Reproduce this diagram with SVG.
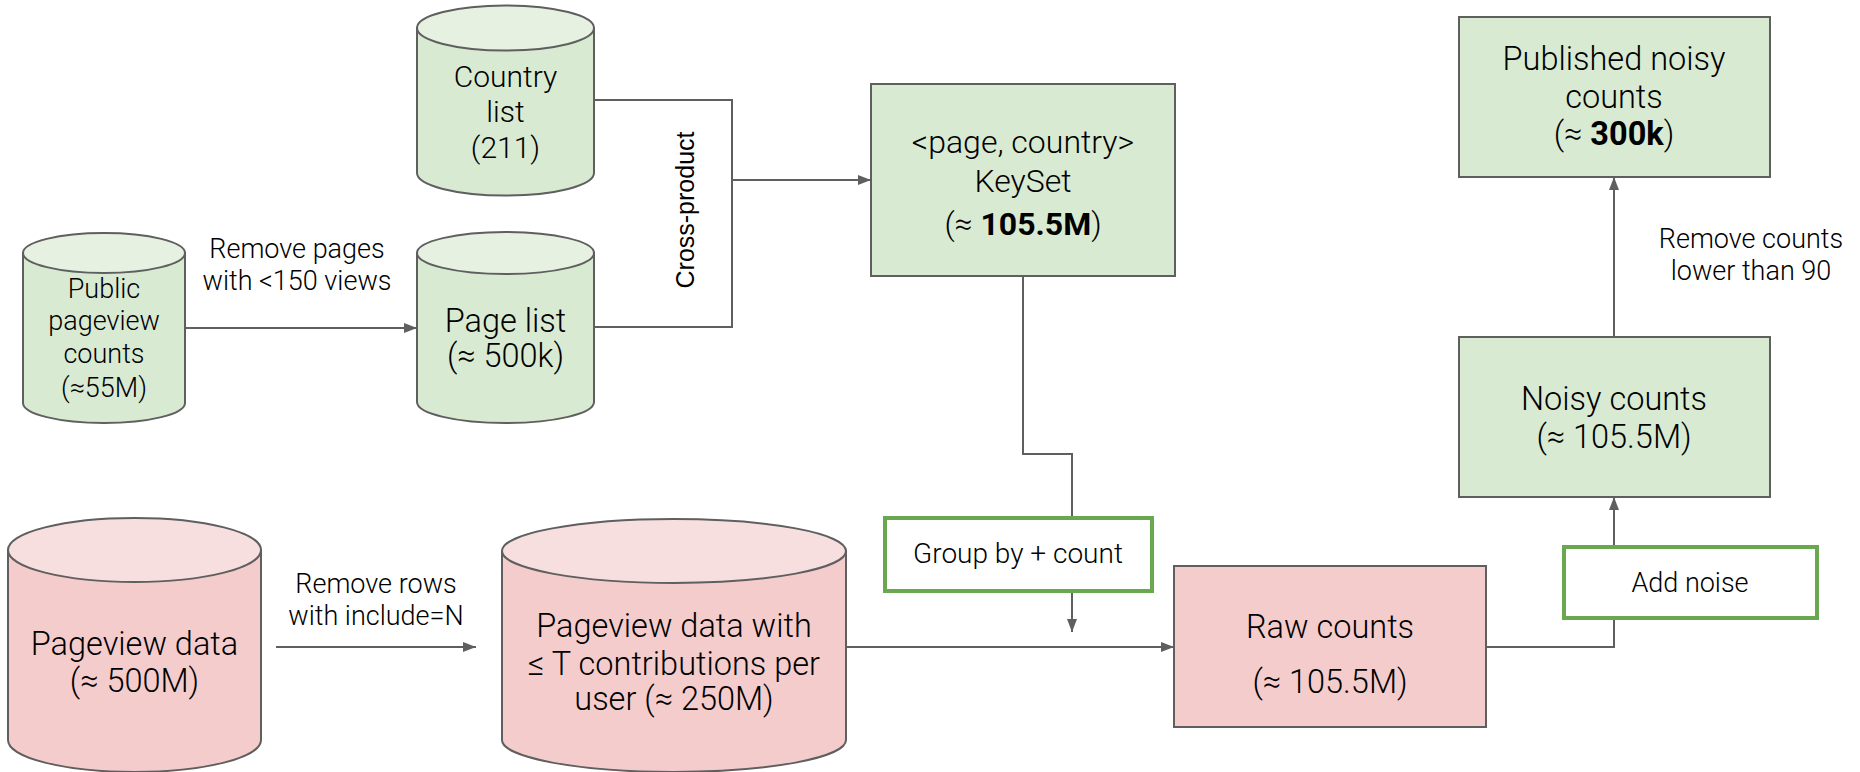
<svg xmlns="http://www.w3.org/2000/svg" width="1860" height="772" viewBox="0 0 1860 772">
  <defs>
    <style>
      .bg { fill: #ffffff; }
      .green { fill: #d9ead3; stroke: #5f5f5f; stroke-width: 2; }
      .green-top { fill: #e6f1e2; stroke: #5f5f5f; stroke-width: 2; }
      .pink { fill: #f4cccc; stroke: #5f5f5f; stroke-width: 2; }
      .pink-top { fill: #f8dfdf; stroke: #5f5f5f; stroke-width: 2; }
      .op { fill: #ffffff; stroke: #6aa84f; stroke-width: 4; }
      .wire { fill: none; stroke: #5f5f5f; stroke-width: 2; }
      .arrow { marker-end: url(#head); }
      text { font-family: Roboto, "Open Sans", "Liberation Sans", sans-serif; font-weight: 300; fill: #000000; text-anchor: middle; }
      .edge { font-size: 27px; }
      .node { font-size: 30px; }
      .wide { font-size: 32px; }
      .big { font-size: 32.5px; }
      .sm { font-size: 27px; }
      .op-label { font-size: 28px; }
      .b { font-weight: bold; }
      .arial { font-family: "Liberation Sans", Arial, sans-serif; font-weight: normal; font-size: 25px; }
    </style>
    <marker id="head" markerUnits="userSpaceOnUse" viewBox="0 0 13 10" markerWidth="13" markerHeight="10" refX="13" refY="5" orient="auto">
      <path d="M0,0 L13,5 L0,10 z" fill="#5f5f5f"/>
    </marker>
  </defs>

  <rect class="bg" x="0" y="0" width="1860" height="772"/>

  <!-- connectors -->
  <g id="connectors">
    <path class="wire arrow" d="M185,328 H417"/>
    <path class="wire" d="M594,100 H732 V327 H594"/>
    <path class="wire arrow" d="M732,180 H871"/>
    <path class="wire" d="M1023,276 V454 H1072 V518"/>
    <path class="wire arrow" d="M1072,591 V632"/>
    <path class="wire arrow" d="M276,647 H476"/>
    <path class="wire arrow" d="M846,647 H1174"/>
    <path class="wire" d="M1486,647 H1614 V618"/>
    <path class="wire arrow" d="M1614,547 V497"/>
    <path class="wire arrow" d="M1614,337 V177"/>
    <text class="arial" transform="translate(694,210) rotate(-90)">Cross-product</text>
    <text class="edge" x="297" y="258">Remove pages</text>
    <text class="edge" x="297" y="290">with &lt;150 views</text>
    <text class="edge" x="376" y="593">Remove rows</text>
    <text class="edge" x="376" y="625">with include=N</text>
    <text class="edge" x="1751" y="248">Remove counts</text>
    <text class="edge" x="1751" y="280">lower than 90</text>
  </g>

  <!-- Country list -->
  <g id="country-list">
    <path class="green" d="M417,28 V173 A88.5,22.5 0 0 0 594,173 V28 Z"/>
    <ellipse class="green-top" cx="505.5" cy="28" rx="88.5" ry="22.5"/>
    <text class="node" x="505.5" y="87">Country</text>
    <text class="node" x="505.5" y="122">list</text>
    <text class="node" x="505.5" y="158">(211)</text>
  </g>

  <!-- Public pageview counts -->
  <g id="public-pageview-counts">
    <path class="green" d="M23,253 V403 A81,20 0 0 0 185,403 V253 Z"/>
    <ellipse class="green-top" cx="104" cy="253" rx="81" ry="20"/>
    <text class="sm" x="104" y="298">Public</text>
    <text class="sm" x="104" y="330">pageview</text>
    <text class="sm" x="104" y="363">counts</text>
    <text class="sm" x="104" y="397">(≈55M)</text>
  </g>

  <!-- Page list -->
  <g id="page-list">
    <path class="green" d="M417,253 V402 A88.5,21 0 0 0 594,402 V253 Z"/>
    <ellipse class="green-top" cx="505.5" cy="253" rx="88.5" ry="21"/>
    <text class="big" x="505.5" y="332">Page list</text>
    <text class="big" x="505.5" y="367">(≈ 500k)</text>
  </g>

  <!-- KeySet -->
  <g id="keyset">
    <rect class="green" x="871" y="84" width="304" height="192"/>
    <text class="wide" x="1023" y="153">&lt;page, country&gt;</text>
    <text class="wide" x="1023" y="192">KeySet</text>
    <text class="wide" x="1023" y="235">(≈ <tspan class="b">105.5M</tspan>)</text>
  </g>

  <!-- Published noisy counts -->
  <g id="published-noisy-counts">
    <rect class="green" x="1459" y="17" width="311" height="160"/>
    <text class="big" x="1614" y="70">Published noisy</text>
    <text class="big" x="1614" y="108">counts</text>
    <text class="big" x="1614" y="145">(≈ <tspan class="b">300k</tspan>)</text>
  </g>

  <!-- Noisy counts -->
  <g id="noisy-counts">
    <rect class="green" x="1459" y="337" width="311" height="160"/>
    <text class="big" x="1614" y="410">Noisy counts</text>
    <text class="big" x="1614" y="448">(≈ 105.5M)</text>
  </g>

  <!-- Pageview data -->
  <g id="pageview-data">
    <path class="pink" d="M8,550 V740 A126.5,32 0 0 0 261,740 V550 Z"/>
    <ellipse class="pink-top" cx="134.5" cy="550" rx="126.5" ry="32"/>
    <text class="big" x="134.5" y="655">Pageview data</text>
    <text class="big" x="134.5" y="692">(≈ 500M)</text>
  </g>

  <!-- Pageview data with bounded contributions -->
  <g id="bounded-pageview-data">
    <path class="pink" d="M502,551 V740 A172,32 0 0 0 846,740 V551 Z"/>
    <ellipse class="pink-top" cx="674" cy="551" rx="172" ry="32"/>
    <text class="big" x="674" y="637">Pageview data with</text>
    <text class="big" x="674" y="675">≤ T contributions per</text>
    <text class="big" x="674" y="710">user (≈ 250M)</text>
  </g>

  <!-- Group by + count -->
  <g id="group-by-count">
    <rect class="op" x="885" y="518" width="267" height="73"/>
    <text class="op-label" x="1018" y="563">Group by + count</text>
  </g>

  <!-- Raw counts -->
  <g id="raw-counts">
    <rect class="pink" x="1174" y="566" width="312" height="161"/>
    <text class="big" x="1330" y="638">Raw counts</text>
    <text class="big" x="1330" y="693">(≈ 105.5M)</text>
  </g>

  <!-- Add noise -->
  <g id="add-noise">
    <rect class="op" x="1564" y="547" width="253" height="71"/>
    <text class="sm" x="1690" y="592">Add noise</text>
  </g>
</svg>
